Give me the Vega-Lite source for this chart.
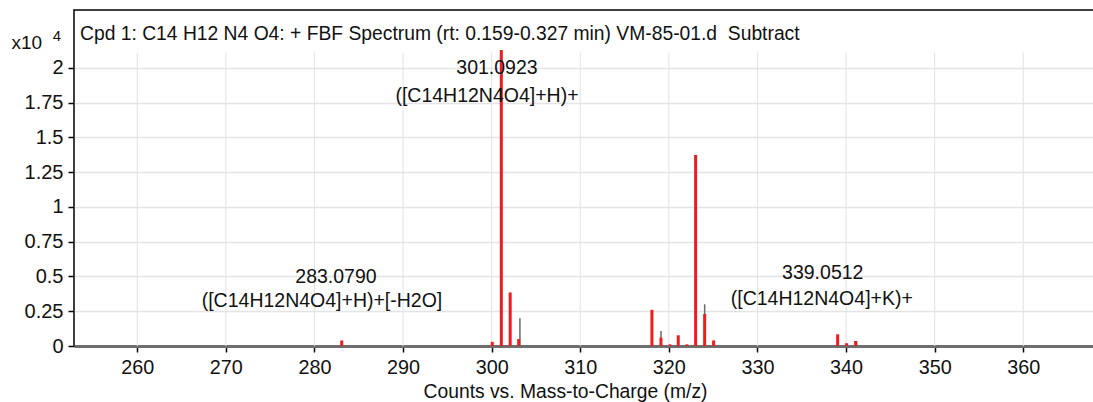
{
  "$schema": "https://vega.github.io/schema/vega-lite/v6.json",
  "width": 1022,
  "height": 336,
  "padding": {"left": 11, "top": 10, "right": 0, "bottom": 0},
  "autosize": {"type": "pad"},
  "background": "#ffffff",
  "config": {
    "font": "Liberation Sans",
    "view": {"stroke": "#000000", "strokeWidth": 1.5},
    "text": {"font": "Liberation Sans", "color": "#111111"}
  },
  "title": {
    "text": "Cpd 1: C14 H12 N4 O4: + FBF Spectrum (rt: 0.159-0.327 min) VM-85-01.d\u00a0 Subtract",
    "anchor": "start",
    "frame": "group",
    "orient": "top",
    "offset": -49,
    "dx": 6,
    "baseline": "alphabetic",
    "fontSize": 19.3,
    "fontWeight": "normal",
    "color": "#111111",
    "font": "Liberation Sans"
  },
  "datasets": {
    "grid": [
      {"mz": 260}, {"mz": 270}, {"mz": 280}, {"mz": 290}, {"mz": 300}, {"mz": 310},
      {"mz": 320}, {"mz": 330}, {"mz": 340}, {"mz": 350}, {"mz": 360}
    ],
    "peaks": [
      {"mz": 303.19, "intensity": 0.20, "series": "background"},
      {"mz": 319.11, "intensity": 0.108, "series": "background"},
      {"mz": 324.04, "intensity": 0.30, "series": "background"},
      {"mz": 341.2, "intensity": 0.03, "series": "background"},
      {"mz": 283.08, "intensity": 0.04, "series": "sample"},
      {"mz": 300.07, "intensity": 0.03, "series": "sample"},
      {"mz": 301.09, "intensity": 2.13, "series": "sample"},
      {"mz": 302.09, "intensity": 0.385, "series": "sample"},
      {"mz": 303.05, "intensity": 0.05, "series": "sample"},
      {"mz": 318.09, "intensity": 0.26, "series": "sample"},
      {"mz": 319.11, "intensity": 0.06, "series": "sample"},
      {"mz": 320.12, "intensity": 0.012, "series": "sample"},
      {"mz": 321.06, "intensity": 0.077, "series": "sample"},
      {"mz": 322.04, "intensity": 0.012, "series": "sample"},
      {"mz": 323.02, "intensity": 1.374, "series": "sample"},
      {"mz": 324.04, "intensity": 0.23, "series": "sample"},
      {"mz": 325.05, "intensity": 0.04, "series": "sample"},
      {"mz": 339.05, "intensity": 0.084, "series": "sample"},
      {"mz": 340.06, "intensity": 0.02, "series": "sample"},
      {"mz": 341.08, "intensity": 0.036, "series": "sample"}
    ],
    "labels": [
      {"mz": 300.6, "intensity": 2.0, "text": "301.0923"},
      {"mz": 299.47, "intensity": 1.8, "text": "([C14H12N4O4]+H)+"},
      {"mz": 282.43, "intensity": 0.496, "text": "283.0790"},
      {"mz": 280.85, "intensity": 0.324, "text": "([C14H12N4O4]+H)+[-H2O]"},
      {"mz": 337.37, "intensity": 0.525, "text": "339.0512"},
      {"mz": 337.26, "intensity": 0.338, "text": "([C14H12N4O4]+K)+"}
    ],
    "exponent": [
      {"mz": 250.94, "intensity": 2.23, "text": "4"}
    ]
  },
  "layer": [
    {
      "data": {"name": "grid"},
      "mark": {"type": "rule", "color": "#e2e2e2", "strokeWidth": 1},
      "encoding": {
        "x": {
          "field": "mz", "type": "quantitative",
          "scale": {"domain": [252.86, 368.21], "zero": false, "nice": false},
          "title": "Counts vs. Mass-to-Charge (m/z)",
          "axis": {
            "values": [260, 270, 280, 290, 300, 310, 320, 330, 340, 350, 360],
            "grid": false,
            "domainColor": "#6e6e6e",
            "domainWidth": 3,
            "tickColor": "#000000",
            "tickSize": 6,
            "tickWidth": 1.5,
            "labelFontSize": 19.8,
            "labelColor": "#111111",
            "labelPadding": 5,
            "labelFont": "Liberation Sans",
            "titleFont": "Liberation Sans",
            "titleFontSize": 19.3,
            "titleFontWeight": "normal",
            "titleColor": "#111111",
            "titlePadding": 6,
            "titleX": 491
          }
        },
        "y": {
          "datum": 2.11, "type": "quantitative",
          "scale": {"domain": [0, 2.417], "nice": false, "zero": true},
          "axis": {
            "title": "x10",
            "titleAngle": 0,
            "titleAlign": "left",
            "titleBaseline": "alphabetic",
            "titleX": -63,
            "titleY": 38,
            "titleFontSize": 19,
            "titleFontWeight": "normal",
            "titleColor": "#111111",
            "titleFont": "Liberation Sans",
            "values": [0, 0.25, 0.5, 0.75, 1, 1.25, 1.5, 1.75, 2],
            "labelExpr": "'' + datum.value",
            "domain": false,
            "grid": true,
            "gridColor": "#e4e4e4",
            "gridWidth": 1.5,
            "tickColor": "#000000",
            "tickSize": 6,
            "tickWidth": 1.5,
            "labelFontSize": 20,
            "labelColor": "#111111",
            "labelPadding": 5,
            "labelFont": "Liberation Sans"
          }
        },
        "y2": {"datum": 0}
      }
    },
    {
      "data": {"name": "peaks"},
      "transform": [{"filter": "datum.series === 'background'"}],
      "mark": {"type": "rule", "color": "#6a6a6a", "strokeWidth": 1.5},
      "encoding": {
        "x": {"field": "mz", "type": "quantitative", "title": "Counts vs. Mass-to-Charge (m/z)"},
        "y": {"field": "intensity", "type": "quantitative", "title": "x10"},
        "y2": {"datum": 0}
      }
    },
    {
      "data": {"name": "peaks"},
      "transform": [{"filter": "datum.series === 'sample'"}],
      "mark": {"type": "rule", "color": "#ee1c1c", "strokeWidth": 3},
      "encoding": {
        "x": {"field": "mz", "type": "quantitative", "title": "Counts vs. Mass-to-Charge (m/z)"},
        "y": {"field": "intensity", "type": "quantitative", "title": "x10"},
        "y2": {"datum": 0}
      }
    },
    {
      "data": {"name": "labels"},
      "mark": {"type": "text", "fontSize": 19.5, "align": "center", "baseline": "middle", "color": "#111111"},
      "encoding": {
        "x": {"field": "mz", "type": "quantitative", "title": "Counts vs. Mass-to-Charge (m/z)"},
        "y": {"field": "intensity", "type": "quantitative", "title": "x10"},
        "text": {"field": "text"}
      }
    },
    {
      "data": {"name": "exponent"},
      "mark": {"type": "text", "fontSize": 15, "align": "center", "baseline": "middle", "color": "#111111"},
      "encoding": {
        "x": {"field": "mz", "type": "quantitative", "title": "Counts vs. Mass-to-Charge (m/z)"},
        "y": {"field": "intensity", "type": "quantitative", "title": "x10"},
        "text": {"field": "text"}
      }
    }
  ]
}
